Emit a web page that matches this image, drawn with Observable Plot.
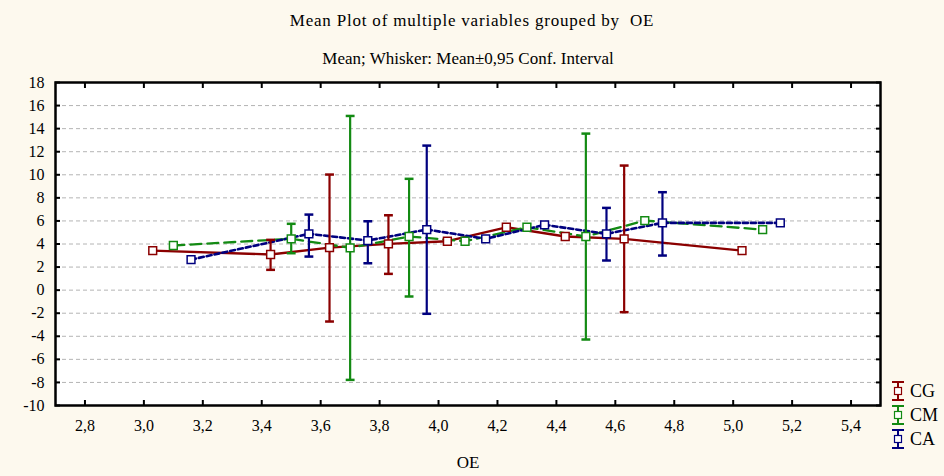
<!DOCTYPE html>
<html><head><meta charset="utf-8">
<script src="https://cdn.jsdelivr.net/npm/d3@7"></script>
<script src="https://cdn.jsdelivr.net/npm/@observablehq/plot@0.6"></script>
<style>
body{margin:0;background:#fdf9ee;}
#wrap{position:relative;width:944px;height:476px;font-family:"Liberation Serif","Times New Roman",serif;}
#wrap svg{display:block;}
#wrap svg, #wrap svg text{font-family:"Liberation Serif","Times New Roman","DejaVu Serif",serif !important;}
#legend{position:absolute;left:0;top:0;pointer-events:none;}
</style></head><body><div id="wrap"></div>
<script>
const titleText = "Mean Plot of multiple variables grouped by  OE";
const subtitleText = "Mean; Whisker: Mean\u00b10,95 Conf. Interval";
const xLabel = "OE";
const seriesNames = ["CG", "CM", "CA"];
const seriesColors = ["#8b0000", "#138a13", "#00007f"];
const xTicks = [2.8, 3.0, 3.2, 3.4, 3.6, 3.8, 4.0, 4.2, 4.4, 4.6, 4.8, 5.0, 5.2, 5.4];
const yTicks = [-10, -8, -6, -4, -2, 0, 2, 4, 6, 8, 10, 12, 14, 16, 18];

const xCG = [3.03, 3.43, 3.63, 3.83, 4.03, 4.23, 4.43, 4.63, 5.03];
const meanCG = [3.43, 3.09, 3.69, 4.01, 4.24, 5.45, 4.65, 4.45, 3.43];
const lowCG = [null, 1.76, -2.72, 1.41, null, null, null, -1.91, null];
const highCG = [null, 4.36, 10.02, 6.49, null, null, null, 10.8, null];

const xCM = [3.10, 3.50, 3.70, 3.90, 4.09, 4.30, 4.50, 4.70, 5.10];
const meanCM = [3.87, 4.45, 3.67, 4.65, 4.24, 5.45, 4.65, 6.03, 5.25];
const lowCM = [null, 3.2, -7.78, -0.55, null, null, -4.28, null, null];
const highCM = [null, 5.75, 15.1, 9.65, null, null, 13.57, null, null];

const xCA = [3.16, 3.56, 3.76, 3.96, 4.16, 4.36, 4.57, 4.76, 5.16];
const meanCA = [2.65, 4.88, 4.3, 5.25, 4.45, 5.66, 4.88, 5.83, 5.83];
const lowCA = [null, 2.91, 2.33, -2.05, null, null, 2.57, 3.0, null];
const highCA = [null, 6.55, 5.97, 12.53, null, null, 7.13, 8.49, null];

const seriesX = [xCG, xCM, xCA];
const seriesMean = [meanCG, meanCM, meanCA];
const seriesLow = [lowCG, lowCM, lowCA];
const seriesHigh = [highCG, highCM, highCA];
const dashes = [null, "11,6", "5,3"];
const widths = [2.3, 2.3, 2.6];

const rows = seriesNames.map((s, i) => seriesX[i].map((x, j) => ({
  series: s, x, mean: seriesMean[i][j], low: seriesLow[i][j], high: seriesHigh[i][j]
})));
const bars = rows.flat().filter(d => d.low != null);

const capSymbol = {draw(ctx, size) { const w = Math.sqrt(size) / 2; ctx.moveTo(-w, 0); ctx.lineTo(w, 0); }};
const colorOf = s => seriesColors[seriesNames.indexOf(s)];
const fmtX = d => d.toFixed(1).replace(".", ",");
const FONT = "'Liberation Serif', 'Times New Roman', serif";

const marks = [
  Plot.frame({fill: "white", stroke: null}),
  Plot.gridY(yTicks, {stroke: "#b4b4b4", strokeOpacity: 1, strokeDasharray: "4,3", strokeWidth: 1}),
];
rows.forEach((r, i) => {
  marks.push(Plot.line(r, {x: "x", y: "mean", stroke: seriesColors[i], strokeWidth: widths[i], strokeDasharray: dashes[i]}));
});
marks.push(
  Plot.ruleX(bars, {x: "x", y1: "low", y2: "high", stroke: d => colorOf(d.series), strokeWidth: 2.2}),
  Plot.dot(bars, {x: "x", y: "low", symbol: capSymbol, r: 5, stroke: d => colorOf(d.series), strokeWidth: 2.5}),
  Plot.dot(bars, {x: "x", y: "high", symbol: capSymbol, r: 5, stroke: d => colorOf(d.series), strokeWidth: 2.5})
);
rows.forEach((r, i) => {
  marks.push(Plot.dot(r, {x: "x", y: "mean", symbol: "square", r: 4.4, fill: "white", stroke: seriesColors[i], strokeWidth: 1.5}));
});
marks.push(
  Plot.axisY({ticks: yTicks, anchor: "left", tickSize: -5, tickPadding: 16, strokeWidth: 2, tickFormat: d => String(d), label: null, fontSize: 16}),
  Plot.axisY({ticks: yTicks, anchor: "right", tickSize: -5, strokeWidth: 2, tickFormat: () => "", label: null}),
  Plot.axisX({ticks: xTicks, anchor: "bottom", tickSize: -5, tickPadding: 19, strokeWidth: 2, tickFormat: fmtX, label: null, fontSize: 16}),
  Plot.axisX({ticks: xTicks, anchor: "top", tickSize: -5, strokeWidth: 2, tickFormat: () => "", label: null}),
  Plot.frame({stroke: "black", strokeWidth: 2.5}),
  Plot.text([titleText], {frameAnchor: "top", lineAnchor: "middle", dy: -62, fontSize: 17, dx: 4,
    render: (i, s, v, d, c, next) => { const g = next(i, s, v, d, c); g.setAttribute("letter-spacing", "0.8"); g.setAttribute("xml:space", "preserve"); return g; }}),
  Plot.text([subtitleText], {frameAnchor: "top", lineAnchor: "middle", dy: -24, fontSize: 17}),
  Plot.text([xLabel], {frameAnchor: "bottom", lineAnchor: "middle", dy: 57, fontSize: 17})
);

const chart = Plot.plot({
  width: 944, height: 476,
  marginLeft: 55, marginRight: 64, marginTop: 82, marginBottom: 71,
  x: {domain: [2.7, 5.5]},
  y: {domain: [-10, 18]},
  style: {background: "transparent", fontFamily: FONT, fontSize: "16px", color: "black"},
  marks
});
const wrap = document.getElementById("wrap");
wrap.appendChild(chart);

// legend
const lg = d3.select(wrap).append("svg").attr("id", "legend").attr("width", 944).attr("height", 476);
seriesNames.forEach((s, i) => {
  const yc = 391 + 24 * i, xc = 898, c = seriesColors[i];
  const g = lg.append("g").attr("stroke", c).attr("stroke-width", 2);
  g.append("line").attr("x1", xc).attr("x2", xc).attr("y1", yc - 9).attr("y2", yc + 9);
  g.append("line").attr("x1", xc - 6).attr("x2", xc + 6).attr("y1", yc - 9).attr("y2", yc - 9);
  g.append("line").attr("x1", xc - 6).attr("x2", xc + 6).attr("y1", yc + 9).attr("y2", yc + 9);
  g.append("rect").attr("x", xc - 3.5).attr("y", yc - 3.5).attr("width", 7).attr("height", 7).attr("fill", "white").attr("stroke-width", 1.2);
  lg.append("text").attr("x", 910).attr("y", yc).attr("dy", "0.35em").attr("font-size", 18)
    .attr("font-family", FONT).text(s);
});
</script></body></html>
